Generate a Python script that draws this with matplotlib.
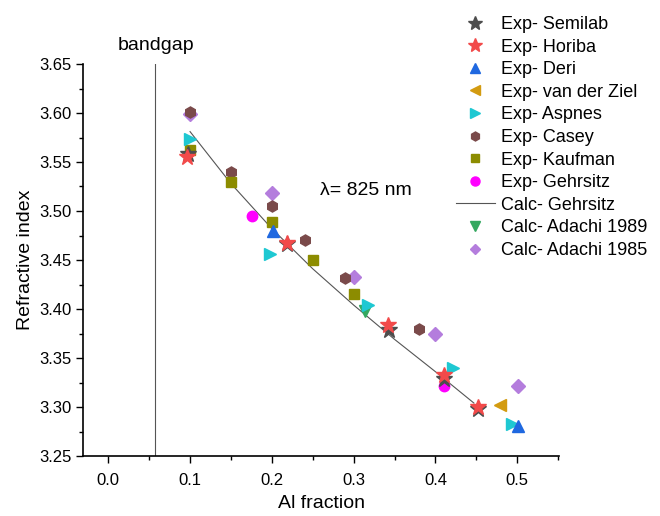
import matplotlib
matplotlib.use("Agg")
import matplotlib.pyplot as plt
from matplotlib.ticker import MultipleLocator, FormatStrFormatter
from matplotlib.lines import Line2D

plt.rcParams['font.family'] = ['Liberation Sans', 'DejaVu Sans']

# ---- data ----
semilab_x = [0.097, 0.219, 0.343, 0.411, 0.452]
semilab_y = [3.558, 3.466, 3.379, 3.329, 3.298]

horiba_x = [0.096, 0.218, 0.342, 0.410, 0.452]
horiba_y = [3.555, 3.467, 3.384, 3.333, 3.300]

deri_x = [0.202, 0.501]
deri_y = [3.480, 3.281]

vdz_x = [0.479]
vdz_y = [3.302]

aspnes_x = [0.100, 0.198, 0.317, 0.421, 0.493]
aspnes_y = [3.573, 3.456, 3.404, 3.340, 3.283]

casey_x = [0.100, 0.150, 0.200, 0.240, 0.290, 0.380]
casey_y = [3.601, 3.540, 3.505, 3.470, 3.432, 3.380]

kaufman_x = [0.100, 0.150, 0.200, 0.250, 0.300]
kaufman_y = [3.562, 3.530, 3.489, 3.450, 3.415]

gehrsitz_exp_x = [0.176, 0.410]
gehrsitz_exp_y = [3.495, 3.321]

gehrsitz_calc_x = [0.100, 0.150, 0.200, 0.250, 0.300, 0.350, 0.400, 0.447]
gehrsitz_calc_y = [3.581, 3.528, 3.482, 3.441, 3.404, 3.369, 3.336, 3.304]

adachi89_x = [0.314]
adachi89_y = [3.398]

adachi85_x = [0.100, 0.200, 0.300, 0.400, 0.501]
adachi85_y = [3.599, 3.518, 3.433, 3.375, 3.321]

bandgap_x = 0.057

# ---- figure ----
fig = plt.figure(figsize=(6.6, 5.16), dpi=100)
ax = fig.add_axes([83.3/660, 1-456/516, (559-83.3)/660, (456-64)/516])

c_semilab = '#4d4d4d'
c_horiba = '#f24a4a'
c_deri = '#1f68e0'
c_vdz = '#d39b10'
c_aspnes = '#1ec8d2'
c_casey = '#7a4a4a'
c_kaufman = '#8c8c00'
c_gehr = '#ff00ff'
c_ad89 = '#35a860'
c_ad85 = '#b47ddd'

ax.axvline(bandgap_x, color='#555555', lw=0.8, zorder=1)
ax.plot(gehrsitz_calc_x, gehrsitz_calc_y, '-', color='#555555', lw=0.8, zorder=2)

ax.plot(adachi85_x, adachi85_y, 'D', color=c_ad85, ms=7, ls='none', zorder=3)
ax.plot(casey_x, casey_y, 'h', color=c_casey, ms=8, ls='none', zorder=4)
ax.plot(kaufman_x, kaufman_y, 's', color=c_kaufman, ms=6.5, ls='none', zorder=4)
ax.plot(gehrsitz_exp_x, gehrsitz_exp_y, 'o', color=c_gehr, ms=7.5, ls='none', zorder=4)
ax.plot(adachi89_x, adachi89_y, 'v', color=c_ad89, ms=8, ls='none', zorder=4)
ax.plot(aspnes_x, aspnes_y, '>', color=c_aspnes, ms=8, ls='none', zorder=5)
ax.plot(deri_x, deri_y, '^', color=c_deri, ms=8, ls='none', zorder=5)
ax.plot(vdz_x, vdz_y, '<', color=c_vdz, ms=8, ls='none', zorder=5)
ax.plot(semilab_x, semilab_y, '*', color=c_semilab, ms=12, ls='none', zorder=5)
ax.plot(horiba_x, horiba_y, '*', color=c_horiba, ms=12, ls='none', zorder=6)

ax.set_xlim(-0.0305, 0.551)
ax.set_ylim(3.25, 3.65)
ax.xaxis.set_major_locator(MultipleLocator(0.1))
ax.xaxis.set_minor_locator(MultipleLocator(0.05))
ax.yaxis.set_major_locator(MultipleLocator(0.05))
ax.yaxis.set_minor_locator(MultipleLocator(0.025))
ax.xaxis.set_major_formatter(FormatStrFormatter('%.1f'))
ax.yaxis.set_major_formatter(FormatStrFormatter('%.2f'))
ax.tick_params(which='major', direction='out', length=5, width=1, labelsize=12, colors='black')
ax.tick_params(axis='x', which='major', pad=7)
ax.tick_params(which='minor', direction='out', length=3, width=1)
for s in ['top', 'right']:
    ax.spines[s].set_visible(False)
for s in ['left', 'bottom']:
    ax.spines[s].set_linewidth(1.2)

ax.set_xlabel('Al fraction', fontsize=14, labelpad=5)
ax.set_ylabel('Refractive index', fontsize=14, labelpad=4)

ax.text(0.012, 3.669, 'bandgap', fontsize=14, ha='left', va='center', clip_on=False)
ax.text(0.2585, 3.521, 'λ= 825 nm', fontsize=14, ha='left', va='center')

handles = [
    Line2D([], [], marker='*', color=c_semilab, ls='none', ms=10),
    Line2D([], [], marker='*', color=c_horiba, ls='none', ms=10),
    Line2D([], [], marker='^', color=c_deri, ls='none', ms=6.5),
    Line2D([], [], marker='<', color=c_vdz, ls='none', ms=6.5),
    Line2D([], [], marker='>', color=c_aspnes, ls='none', ms=6.5),
    Line2D([], [], marker='h', color=c_casey, ls='none', ms=6.5),
    Line2D([], [], marker='s', color=c_kaufman, ls='none', ms=5.5),
    Line2D([], [], marker='o', color=c_gehr, ls='none', ms=6.5),
    Line2D([], [], color='#555555', lw=0.8),
    Line2D([], [], marker='v', color=c_ad89, ls='none', ms=6.5),
    Line2D([], [], marker='D', color=c_ad85, ls='none', ms=5.5),
]
labels = ['Exp- Semilab', 'Exp- Horiba', 'Exp- Deri', 'Exp- van der Ziel', 'Exp- Aspnes',
          'Exp- Casey', 'Exp- Kaufman', 'Exp- Gehrsitz', 'Calc- Gehrsitz',
          'Calc- Adachi 1989', 'Calc- Adachi 1985']
fig.legend(handles, labels, loc='upper left', bbox_to_anchor=(456/660, 1-16/516),
           frameon=False, fontsize=13, handlelength=2.15, handletextpad=0.33,
           labelspacing=0.31, borderpad=0, borderaxespad=0)

fig.savefig('out.png', dpi=100)
